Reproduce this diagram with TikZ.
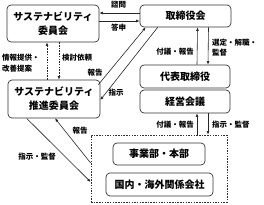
\documentclass[tikz,border=0pt]{standalone}
\usepackage{fontspec}
\setmainfont{Noto Sans CJK JP}
\usetikzlibrary{arrows.meta,calc}
\begin{document}
\begin{tikzpicture}[x=1pt,y=-1pt,
  box/.style={draw=black!80,line width=0.7pt,rounded corners=4pt,inner sep=0pt,align=center,font=\fontsize{10}{14}\selectfont\bfseries},
  lbl/.style={font=\fontsize{7.5}{10.5}\selectfont\bfseries,inner sep=0pt,align=left},
  arr/.style={draw=black!85,line width=0.6pt,-{Latex[length=3.5pt,width=2.8pt]}},
  dsh/.style={dash pattern=on 1.5pt off 1.2pt}]
\useasboundingbox[fill=white] (0,0) rectangle (264,204);
% boxes
\node[box,minimum width=92pt,minimum height=37pt] (sc) at (53,23.5) {サステナビリティ\\委員会};
\node[box,minimum width=91pt,minimum height=22pt] (board) at (185.5,16) {取締役会};
\node[box,minimum width=92pt,minimum height=38pt] (promo) at (54,99) {サステナビリティ\\推進委員会};
\node[box,minimum width=90pt,minimum height=23pt] (rep) at (185,76.5) {代表取締役};
\node[box,minimum width=90pt,minimum height=23pt] (mgmt) at (185,101.5) {経営会議};
\node[draw=black!80,line width=0.7pt,dsh,minimum width=136pt,minimum height=67pt,inner sep=0pt] (grp) at (159,168.5) {};
\node[box,minimum width=92pt,minimum height=22pt] (biz) at (159,154) {事業部・本部};
\node[box,minimum width=107pt,minimum height=23pt] (aff) at (159.5,184.5) {国内・海外関係会社};
% board <-> committee
\coordinate (t1) at ([yshift=3pt]board.west);
\coordinate (t2) at ([yshift=-5pt]board.west);
\draw[arr] (t1) -- (t1 -| sc.east);
\draw[arr] (t2 -| sc.east) -- (t2);
\node[lbl] (l1) at (118.5,4.5) {諮問};
\node[lbl] (l2) at (118.5,28) {答申};
% committee <-> promotion (dashed)
\coordinate (v1) at ([xshift=-6pt]sc.south);
\coordinate (v2) at ([xshift=6pt]sc.south);
\draw[arr,dsh] (v1 |- promo.north) -- (v1);
\draw[arr,dsh] (v2) -- (v2 |- promo.north);
\node[lbl,anchor=west] (l3) at (2,63) {情報提供・\\改善提案};
\node[lbl,anchor=west] (l4) at (62,58) {検討依頼};
% board <-> promotion diagonal
\draw[arr] ($(promo.north east)+(-2,5)$) -- ($(board.south west)+(6,0)$);
\draw[arr] ($(board.south west)+(18,0)$) -- ($(promo.east)+(0,1)$);
\node[lbl] (l5) at (95,73) {報告};
\node[lbl] (l6) at (116,93) {指示};
% board <-> rep
\draw[arr] ([xshift=12pt]rep.north) -- ([xshift=12pt]board.south);
\draw[arr] ([xshift=23pt]board.south) -- ([xshift=23pt]rep.north);
\node[lbl,anchor=east] (l7) at (194,52) {付議・報告};
\node[lbl,anchor=west] (l8) at (212,47.5) {選定・解職・\\監督};
% mgmt <-> group
\coordinate (w1) at ([xshift=12pt]mgmt.south);
\coordinate (w2) at ([xshift=23pt]mgmt.south);
\draw[arr] (w1 |- grp.north) -- (w1);
\draw[arr] (w2) -- (w2 |- grp.north);
\node[lbl,anchor=east] (l9) at (194,125) {付議・報告};
\node[lbl,anchor=west] (l10) at (212,125) {指示・監督};
% promo <-> group
\draw[arr] ($(grp.west)+(0,-5.5)$) -- ($(promo.south)+(1,0)$);
\draw[arr] ($(promo.south west)+(19,0)$) -- ($(grp.west)+(0,13.5)$);
\node[lbl] (l11) at (80,131) {報告};
\node[lbl] (l12) at (37,157) {指示・監督};
\end{tikzpicture}
\end{document}
